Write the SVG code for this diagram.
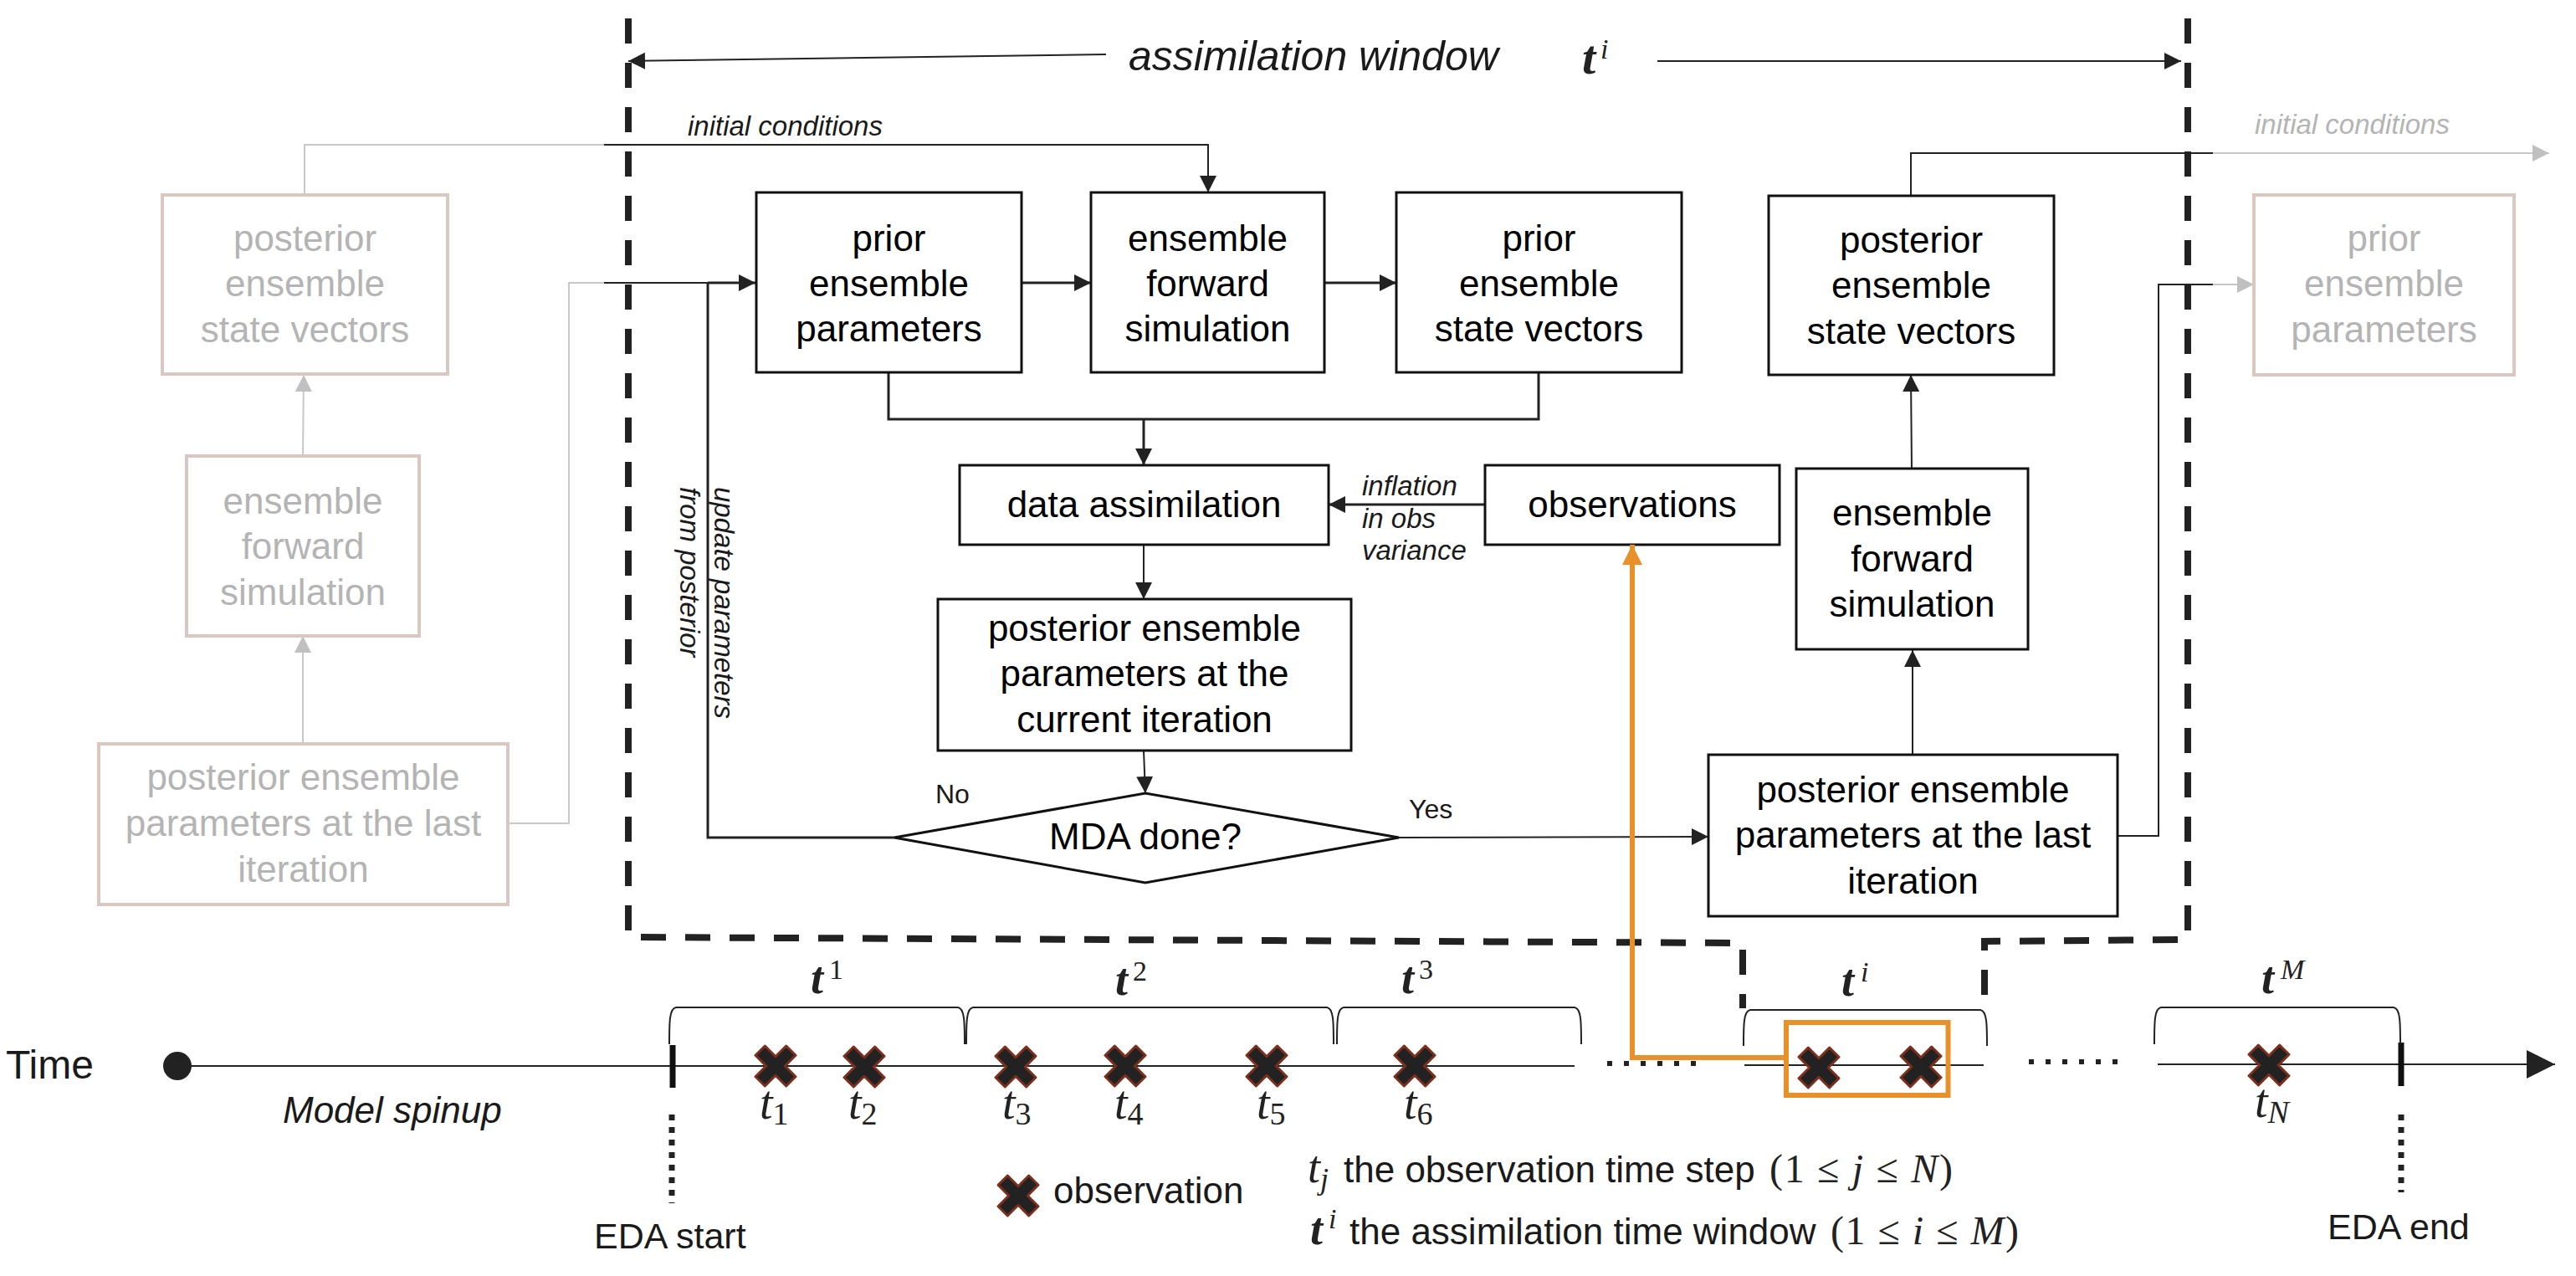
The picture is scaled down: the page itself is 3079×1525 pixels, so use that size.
<svg xmlns="http://www.w3.org/2000/svg" xmlns:xlink="http://www.w3.org/1999/xlink" width="3079" height="1525" viewBox="0 0 3079 1525">
<style>
.box{fill:#fff;stroke:#111;stroke-width:3}
.gbox{fill:#fff;stroke:#d9c8c2;stroke-width:4}
.t{font-family:"Liberation Sans",Arial,sans-serif;font-size:44px;fill:#000;text-anchor:middle}
.lbl{font-family:"Liberation Sans",Arial,sans-serif;fill:#1a1a1a}
.it{font-style:italic}
.gt{fill:#b4b4b4}
.ln{fill:none;stroke:#222;stroke-width:2}
.thk{stroke-width:3}
.gln{fill:none;stroke:#c8c8c8;stroke-width:2}
.dash{fill:none;stroke:#222;stroke-width:8;stroke-dasharray:30 23}
.obs{fill:#222;stroke:#7b2f1c;stroke-width:3;stroke-linejoin:round}
.m{font-family:"Liberation Serif","Times New Roman",serif;fill:#222}
.brace{fill:none;stroke:#222;stroke-width:2}
.orange{fill:none;stroke:#E8912A;stroke-width:6}
</style>
<defs>
<marker id="ak" markerUnits="userSpaceOnUse" markerWidth="20" markerHeight="20" refX="20" refY="10" orient="auto"><path d="M0,0 L20,10 L0,20 z" fill="#222"/></marker>
<marker id="ag" markerUnits="userSpaceOnUse" markerWidth="20" markerHeight="20" refX="20" refY="10" orient="auto"><path d="M0,0 L20,10 L0,20 z" fill="#c0c0c0"/></marker>
<marker id="ao" markerUnits="userSpaceOnUse" markerWidth="24" markerHeight="24" refX="24" refY="12" orient="auto"><path d="M0,0 L24,12 L0,24 z" fill="#E8912A"/></marker>
<marker id="abig" markerUnits="userSpaceOnUse" markerWidth="34" markerHeight="34" refX="34" refY="17" orient="auto"><path d="M0,0 L34,17 L0,34 z" fill="#222"/></marker>
<polygon id="xm" class="obs" points="0,-11.3 12.7,-24 24,-12.7 11.3,0 24,12.7 12.7,24 0,11.3 -12.7,24 -24,12.7 -11.3,0 -24,-12.7 -12.7,-24"/>
</defs>
<rect width="3079" height="1525" fill="#fff"/>

<g id="window-border">
<path class="dash" d="M751,22 L751,1120 L2083,1127 L2083,1205"/>
<path class="dash" d="M2615,22 L2615,1123 L2372,1125 L2372,1206"/>
</g>

<g id="connectors">
<path class="ln" d="M1322,65 L751,73" marker-end="url(#ak)"/>
<path class="ln" d="M1981,73 L2607,73" marker-end="url(#ak)"/>
<path class="gln" d="M364,233 L364,173 L722,173"/>
<path class="ln" d="M722,173 L1444,173 L1444,230" marker-end="url(#ak)"/>
<path class="gln" d="M607,984 L680,984 L680,338 L722,338"/>
<path class="ln" d="M722,338 L846,338"/>
<path class="ln thk" d="M846,338 L903,338" marker-end="url(#ak)"/>
<path class="ln thk" d="M1069,1001 L846,1001 L846,338"/>
<path class="ln thk" d="M1221,338 L1304,338" marker-end="url(#ak)"/>
<path class="ln thk" d="M1583,338 L1669,338" marker-end="url(#ak)"/>
<path class="ln thk" d="M1062,445 L1062,501 L1839,501 L1839,445"/>
<path class="ln thk" d="M1367,501 L1367,556" marker-end="url(#ak)"/>
<path class="ln thk" d="M1775,603 L1588,603" marker-end="url(#ak)"/>
<path class="ln" d="M1367,651 L1367,716" marker-end="url(#ak)"/>
<path class="ln" d="M1367,897 L1369,948" marker-end="url(#ak)"/>
<path class="ln" d="M1672,1001 L2042,1000" marker-end="url(#ak)"/>
<path class="ln" d="M2286,902 L2286,777" marker-end="url(#ak)"/>
<path class="ln" d="M2285,560 L2284,448" marker-end="url(#ak)"/>
<path class="ln" d="M2284,234 L2284,183 L2645,183"/>
<path class="gln" d="M2645,183 L3047,183" marker-end="url(#ag)"/>
<path class="ln" d="M2531,999 L2580,999 L2580,340 L2645,340"/>
<path class="gln" d="M2645,340 L2694,340" marker-end="url(#ag)"/>
<path class="gln" d="M362,545 L363,448" marker-end="url(#ag)"/>
<path class="gln" d="M362,889 L362,760" marker-end="url(#ag)"/>
</g>

<g id="edge-labels">
<text class="lbl it" x="1349" y="84" font-size="50">assimilation window</text>
<text class="m" x="1891" y="88" font-size="58" font-weight="bold" font-style="italic">t</text>
<text class="m" x="1913" y="70" font-size="34" font-style="italic">i</text>
<text class="lbl it" x="822" y="162" font-size="33">initial conditions</text>
<text class="lbl it gt" x="2695" y="160" font-size="33">initial conditions</text>
<text class="lbl it" font-size="33" transform="translate(854,582) rotate(90)">update parameters</text>
<text class="lbl it" font-size="33" transform="translate(813,582) rotate(90)">from posterior</text>
<text class="lbl it" font-size="33" x="1628" y="592">inflation</text>
<text class="lbl it" font-size="33" x="1628" y="631">in obs</text>
<text class="lbl it" font-size="33" x="1628" y="669">variance</text>
<text class="lbl" font-size="32" x="1118" y="960">No</text>
<text class="lbl" font-size="32" x="1684" y="978">Yes</text>
</g>

<g id="ghost-posterior-state">
<rect class="gbox" x="194" y="233" width="341" height="214"/>
<text class="t gt"><tspan x="364.5" y="300">posterior</tspan><tspan x="364.5" y="354">ensemble</tspan><tspan x="364.5" y="409">state vectors</tspan></text>
</g>
<g id="ghost-forward">
<rect class="gbox" x="223" y="545" width="278" height="215"/>
<text class="t gt"><tspan x="362" y="614">ensemble</tspan><tspan x="362" y="668">forward</tspan><tspan x="362" y="723">simulation</tspan></text>
</g>
<g id="ghost-posterior-last">
<rect class="gbox" x="118" y="889" width="489" height="192"/>
<text class="t gt"><tspan x="362.5" y="944">posterior ensemble</tspan><tspan x="362.5" y="999">parameters at the last</tspan><tspan x="362.5" y="1054">iteration</tspan></text>
</g>
<g id="ghost-prior-params">
<rect class="gbox" x="2694" y="233" width="311" height="215"/>
<text class="t gt"><tspan x="2849.5" y="300">prior</tspan><tspan x="2849.5" y="354">ensemble</tspan><tspan x="2849.5" y="409">parameters</tspan></text>
</g>

<g id="prior-params">
<rect class="box" x="904" y="230" width="317" height="215"/>
<text class="t"><tspan x="1062.5" y="300">prior</tspan><tspan x="1062.5" y="354">ensemble</tspan><tspan x="1062.5" y="408">parameters</tspan></text>
</g>
<g id="forward-sim">
<rect class="box" x="1304" y="230" width="279" height="215"/>
<text class="t"><tspan x="1443.5" y="300">ensemble</tspan><tspan x="1443.5" y="354">forward</tspan><tspan x="1443.5" y="408">simulation</tspan></text>
</g>
<g id="prior-state">
<rect class="box" x="1669" y="230" width="341" height="215"/>
<text class="t"><tspan x="1839.5" y="300">prior</tspan><tspan x="1839.5" y="354">ensemble</tspan><tspan x="1839.5" y="408">state vectors</tspan></text>
</g>
<g id="posterior-state">
<rect class="box" x="2114" y="234" width="341" height="214"/>
<text class="t"><tspan x="2284.5" y="302">posterior</tspan><tspan x="2284.5" y="356">ensemble</tspan><tspan x="2284.5" y="411">state vectors</tspan></text>
</g>
<g id="data-assimilation">
<rect class="box" x="1147" y="556" width="441" height="95"/>
<text class="t" x="1367.5" y="618">data assimilation</text>
</g>
<g id="observations">
<rect class="box" x="1775" y="556" width="352" height="95"/>
<text class="t" x="1951" y="618">observations</text>
</g>
<g id="posterior-current">
<rect class="box" x="1121" y="716" width="494" height="181"/>
<text class="t"><tspan x="1368" y="766">posterior ensemble</tspan><tspan x="1368" y="820">parameters at the</tspan><tspan x="1368" y="875">current iteration</tspan></text>
</g>
<g id="mda-done">
<polygon class="box" points="1069,1001 1369,948 1672,1001 1369,1055"/>
<text class="t" x="1369" y="1015" font-size="38">MDA done?</text>
</g>
<g id="forward-sim-2">
<rect class="box" x="2147" y="560" width="277" height="216"/>
<text class="t"><tspan x="2285.5" y="628">ensemble</tspan><tspan x="2285.5" y="683">forward</tspan><tspan x="2285.5" y="737">simulation</tspan></text>
</g>
<g id="posterior-last">
<rect class="box" x="2042" y="902" width="489" height="193"/>
<text class="t"><tspan x="2286.5" y="959">posterior ensemble</tspan><tspan x="2286.5" y="1013">parameters at the last</tspan><tspan x="2286.5" y="1068">iteration</tspan></text>
</g>

<g id="timeline">
<text class="lbl" x="7" y="1289" font-size="48">Time</text>
<circle cx="212" cy="1274" r="17" fill="#222"/>
<path class="ln" d="M212,1274 L1882,1274"/>
<path class="ln" d="M2085,1273 L2371,1273"/>
<path class="ln" d="M2579,1272 L3054,1272" marker-end="url(#abig)"/>
<path d="M1921,1271 L2027,1271" stroke="#222" stroke-width="6" stroke-dasharray="6 14"/>
<path d="M2425,1269 L2531,1269" stroke="#222" stroke-width="6" stroke-dasharray="6 14"/>
<text class="lbl it" x="338" y="1342" font-size="44">Model spinup</text>
<path d="M804,1249 L804,1300" stroke="#111" stroke-width="7"/>
<path d="M803,1332 L803,1438" stroke="#222" stroke-width="7" stroke-dasharray="7 8"/>
<text class="lbl" x="710" y="1492" font-size="43">EDA start</text>
<path d="M2870,1246 L2870,1298" stroke="#111" stroke-width="7"/>
<path d="M2870,1332 L2870,1425" stroke="#222" stroke-width="7" stroke-dasharray="7 8"/>
<text class="lbl" x="2782" y="1481" font-size="43">EDA end</text>
</g>

<g id="windows">
<path class="brace" d="M800,1248 C800,1222 800,1205 808,1204 L1145,1204 C1153,1205 1153,1222 1153,1248"/>
<path class="brace" d="M1155,1248 C1155,1222 1155,1205 1163,1204 L1586,1204 C1594,1205 1594,1222 1594,1248"/>
<path class="brace" d="M1598,1248 C1598,1222 1598,1205 1606,1204 L1882,1204 C1890,1205 1890,1222 1890,1248"/>
<path class="brace" d="M2084,1250 C2084,1225 2084,1208 2092,1207 L2367,1207 C2375,1208 2375,1225 2375,1250"/>
<path class="brace" d="M2575,1248 C2575,1222 2575,1205 2583,1204 L2861,1204 C2869,1205 2869,1222 2869,1248"/>
<text class="m" x="969" y="1187" font-size="54" font-weight="bold" font-style="italic">t</text>
<text class="m" x="991" y="1170" font-size="34">1</text>
<text class="m" x="1333" y="1189" font-size="54" font-weight="bold" font-style="italic">t</text>
<text class="m" x="1354" y="1172" font-size="34">2</text>
<text class="m" x="1675" y="1187" font-size="54" font-weight="bold" font-style="italic">t</text>
<text class="m" x="1696" y="1170" font-size="34">3</text>
<text class="m" x="2201" y="1190" font-size="54" font-weight="bold" font-style="italic">t</text>
<text class="m" x="2224" y="1173" font-size="34" font-style="italic">i</text>
<text class="m" x="2703" y="1187" font-size="54" font-weight="bold" font-style="italic">t</text>
<text class="m" x="2726" y="1170" font-size="34" font-style="italic">M</text>
</g>

<g id="observation-markers">
<use xlink:href="#xm" href="#xm" x="927" y="1274"/>
<use xlink:href="#xm" href="#xm" x="1033" y="1275"/>
<use xlink:href="#xm" href="#xm" x="1214" y="1275"/>
<use xlink:href="#xm" href="#xm" x="1345" y="1274"/>
<use xlink:href="#xm" href="#xm" x="1514" y="1274"/>
<use xlink:href="#xm" href="#xm" x="1691" y="1274"/>
<use xlink:href="#xm" href="#xm" x="2712" y="1273"/>
<text class="m" font-style="italic" font-size="56" x="908" y="1337">t<tspan font-size="38" font-style="normal" dy="7">1</tspan></text>
<text class="m" font-style="italic" font-size="56" x="1014" y="1337">t<tspan font-size="38" font-style="normal" dy="7">2</tspan></text>
<text class="m" font-style="italic" font-size="56" x="1198" y="1337">t<tspan font-size="38" font-style="normal" dy="7">3</tspan></text>
<text class="m" font-style="italic" font-size="56" x="1332" y="1337">t<tspan font-size="38" font-style="normal" dy="7">4</tspan></text>
<text class="m" font-style="italic" font-size="56" x="1502" y="1337">t<tspan font-size="38" font-style="normal" dy="7">5</tspan></text>
<text class="m" font-style="italic" font-size="56" x="1678" y="1337">t<tspan font-size="38" font-style="normal" dy="7">6</tspan></text>
<text class="m" font-style="italic" font-size="56" x="2695" y="1335">t<tspan font-size="38" dy="7">N</tspan></text>
</g>

<g id="current-window-highlight">
<path class="orange" d="M2135,1264 L1951,1264 L1951,651" marker-end="url(#ao)"/>
<rect class="orange" x="2135" y="1222" width="193.5" height="87"/>
<use xlink:href="#xm" href="#xm" x="2174" y="1276"/>
<use xlink:href="#xm" href="#xm" x="2296" y="1275"/>
</g>

<g id="legend">
<use xlink:href="#xm" href="#xm" x="1217" y="1429"/>
<text class="lbl" x="1259" y="1438" font-size="44">observation</text>
<text class="m" font-style="italic" font-size="54" x="1563" y="1413">t<tspan font-size="36" dy="8">j</tspan></text>
<text class="lbl" x="1606" y="1413" font-size="44">the observation time step</text>
<text class="m" font-size="48" x="2115" y="1413" textLength="219">(1 ≤ <tspan font-style="italic">j</tspan> ≤ <tspan font-style="italic">N</tspan>)</text>
<text class="m" font-size="54" font-weight="bold" font-style="italic" x="1566" y="1487">t</text>
<text class="m" font-size="34" font-style="italic" x="1588" y="1468">i</text>
<text class="lbl" x="1613" y="1487" font-size="44">the assimilation time window</text>
<text class="m" font-size="48" x="2188" y="1487" textLength="225">(1 ≤ <tspan font-style="italic">i</tspan> ≤ <tspan font-style="italic">M</tspan>)</text>
</g>
</svg>
